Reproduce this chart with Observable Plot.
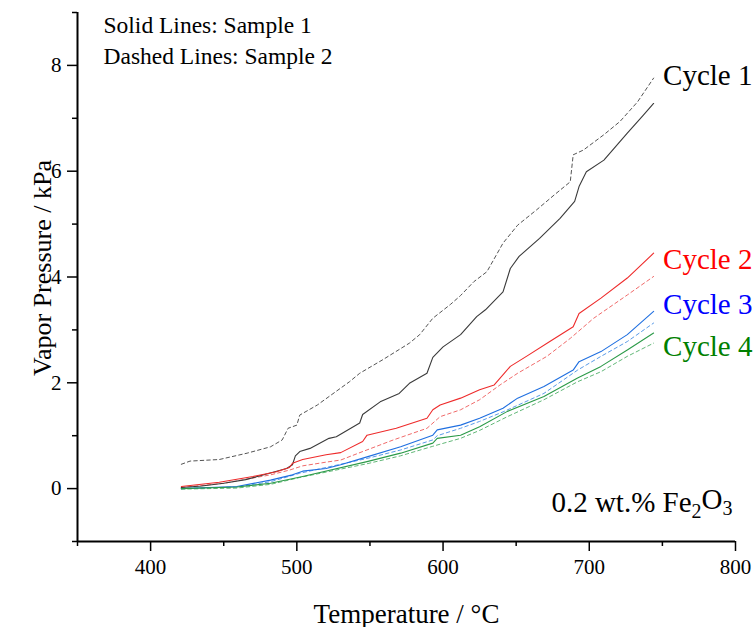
<!DOCTYPE html>
<html>
<head>
<meta charset="utf-8">
<script src="https://cdn.jsdelivr.net/npm/d3@7"></script>
<script src="https://cdn.jsdelivr.net/npm/@observablehq/plot@0.6"></script>
<style>
  html, body { margin: 0; padding: 0; background: #fff; }
  svg { display: block; }
  svg text { font-family: "Liberation Serif", "DejaVu Serif", serif; }
</style>
</head>
<body>
<div id="chart"></div>
<script>
// ---- Data ----
const c1sT = [421,435,450,465,480,493,497,499,502,509,522,527,543,545,557,570,577,589,593,600,612,623,629,641,646,652,666,680,690,693,698,710,726,737,744];
const c1sP = [0.02,0.05,0.10,0.17,0.28,0.38,0.45,0.62,0.70,0.76,0.95,0.98,1.24,1.40,1.64,1.80,1.99,2.18,2.48,2.68,2.91,3.25,3.38,3.72,4.16,4.39,4.73,5.11,5.43,5.71,5.99,6.21,6.72,7.06,7.28];
const c1dT = [421,427,447,466,482,490,494,500,502,514,530,536,543,559,577,584,593,605,612,621,630,641,651,664,676,687,689,696,710,721,733,744];
const c1dP = [0.46,0.52,0.55,0.67,0.79,0.92,1.14,1.20,1.39,1.58,1.90,2.02,2.18,2.44,2.75,2.91,3.22,3.48,3.65,3.91,4.10,4.64,4.98,5.27,5.55,5.80,6.31,6.40,6.69,6.94,7.31,7.76];
const c2sT = [421,447,470,486,495,497,504,520,530,545,548,568,589,593,598,612,625,635,646,657,673,689,693,708,726,744];
const c2sP = [0.04,0.12,0.23,0.32,0.40,0.48,0.55,0.64,0.68,0.89,1.01,1.14,1.33,1.49,1.58,1.71,1.87,1.96,2.31,2.50,2.78,3.06,3.31,3.60,3.98,4.45];
const c2dT = [421,450,482,495,504,520,530,545,566,589,598,612,625,639,651,671,687,703,726,744];
const c2dP = [0.02,0.10,0.26,0.35,0.43,0.50,0.54,0.70,0.92,1.14,1.36,1.49,1.68,1.96,2.18,2.50,2.84,3.22,3.66,4.01];
const c3sT = [421,440,459,482,497,504,520,530,548,571,593,596,612,625,641,651,669,689,693,708,726,744];
const c3sP = [0.00,0.02,0.04,0.16,0.26,0.33,0.38,0.45,0.60,0.79,1.01,1.11,1.20,1.33,1.52,1.71,1.93,2.24,2.40,2.59,2.91,3.35];
const c3dT = [421,459,482,502,548,571,593,596,612,625,641,669,692,708,726,744];
const c3dP = [0.00,0.03,0.13,0.29,0.57,0.73,0.92,1.00,1.14,1.27,1.45,1.80,2.24,2.50,2.78,3.13];
const c4sT = [421,459,482,504,548,571,593,596,612,625,644,669,692,708,726,744];
const c4sP = [0.00,0.03,0.10,0.23,0.51,0.67,0.86,0.95,1.01,1.17,1.46,1.74,2.09,2.31,2.62,2.94];
const c4dT = [421,459,482,502,548,571,593,612,625,644,669,692,708,726,744];
const c4dP = [-0.01,0.01,0.08,0.21,0.47,0.62,0.80,0.95,1.10,1.36,1.68,2.02,2.21,2.50,2.75];

const cycleLabels = ["Cycle 1","Cycle 2","Cycle 3","Cycle 4"];
const labelT = [745, 745, 745, 745];
const labelP = [7.8, 4.33, 3.48, 2.68];
const solidColors  = ["#3a3a3a","#ee2b2b","#1f6fe0","#2b9a48"];
const dashedColors = ["#555555","#f06a6a","#5a9be8","#62b878"];
const textColors   = ["#000000","#ff0000","#0000ff","#008000"];

const xMajor = [400,500,600,700,800];
const xMinor = [350,450,550,650,750];
const yMajor = [0,2,4,6,8];
const yMinor = [-1,1,3,5,7,9];

const FONT = "Liberation Serif";

// ---- Build series ----
const solids = [[c1sT,c1sP],[c2sT,c2sP],[c3sT,c3sP],[c4sT,c4sP]];
const dashes = [[c1dT,c1dP],[c2dT,c2dP],[c3dT,c3dP],[c4dT,c4dP]];
const toRows = ([T,P]) => T.map((t,i) => ({T: t, P: P[i]}));

const lineMarks = [];
dashes.forEach((s,i) => lineMarks.push(Plot.line(toRows(s), {x:"T", y:"P", stroke: dashedColors[i], strokeWidth: 1, strokeDasharray: "3.5,3"})));
solids.forEach((s,i) => lineMarks.push(Plot.line(toRows(s), {x:"T", y:"P", stroke: solidColors[i], strokeWidth: 1.1})));

const labelRows = cycleLabels.map((l,i) => ({label: l, T: labelT[i], P: labelP[i], c: textColors[i]}));

const chart = Plot.plot({
  width: 755,
  height: 627,
  marginLeft: 77,
  marginRight: 20,
  marginTop: 12,
  marginBottom: 86,
  x: {domain: [350, 800]},
  y: {domain: [-1, 9]},
  style: {fontFamily: FONT, fontSize: "21px", color: "#000", background: "#fff"},
  marks: [
    ...lineMarks,
    Plot.axisX({ticks: xMajor, tickSize: 10, tickPadding: 8, tickFormat: d => d, label: null, fontSize: 21, fontFamily: FONT, strokeWidth: 1.5}),
    Plot.axisX({ticks: xMinor, tickSize: 5, tickFormat: () => "", label: null, strokeWidth: 1.5}),
    Plot.axisY({ticks: yMajor, tickSize: 10, tickPadding: 6, tickFormat: d => d, label: null, fontSize: 21, fontFamily: FONT, strokeWidth: 1.5}),
    Plot.axisY({ticks: yMinor, tickSize: 5, tickFormat: () => "", label: null, strokeWidth: 1.5}),
    Plot.ruleX([350], {stroke: "#000", strokeWidth: 2}),
    Plot.ruleY([-1], {stroke: "#000", strokeWidth: 2}),
    Plot.text(labelRows, {x: "T", y: "P", text: "label", fill: "c", textAnchor: "start", lineAnchor: "middle", dx: 8, fontSize: 29, fontFamily: FONT}),
    Plot.text(["Temperature / °C"], {frameAnchor: "bottom", textAnchor: "middle", lineAnchor: "bottom", dy: 81, fontSize: 27, fontFamily: FONT}),
    Plot.text(["Vapor Pressure / kPa"], {frameAnchor: "left", textAnchor: "middle", lineAnchor: "middle", rotate: -90, dx: -35, dy: -9, fontSize: 26, fontFamily: FONT}),
    Plot.text(["Solid Lines: Sample 1"], {frameAnchor: "top-left", textAnchor: "start", lineAnchor: "middle", dx: 26, dy: 13, fontSize: 23.5, fontFamily: FONT}),
    Plot.text(["Dashed Lines: Sample 2"], {frameAnchor: "top-left", textAnchor: "start", lineAnchor: "middle", dx: 26, dy: 44, fontSize: 23.5, fontFamily: FONT}),
    Plot.text(["0.2 wt.% Fe2O3"], {frameAnchor: "bottom-right", textAnchor: "end", lineAnchor: "middle", dx: -3, dy: -39, fontSize: 29, fontFamily: FONT})
  ]
});

document.getElementById("chart").appendChild(chart);

// subscripts in the formula
d3.select(chart).selectAll("text").each(function() {
  const t = d3.select(this);
  if (t.text() === "0.2 wt.% Fe2O3") {
    t.text(null);
    t.append("tspan").text("0.2 wt.% Fe");
    t.append("tspan").attr("dy", "0.3em").attr("font-size", "20").text("2");
    t.append("tspan").attr("dy", "-0.3em").text("O");
    t.append("tspan").attr("dy", "0.3em").attr("font-size", "20").text("3");
  }
});
</script>
</body>
</html>
